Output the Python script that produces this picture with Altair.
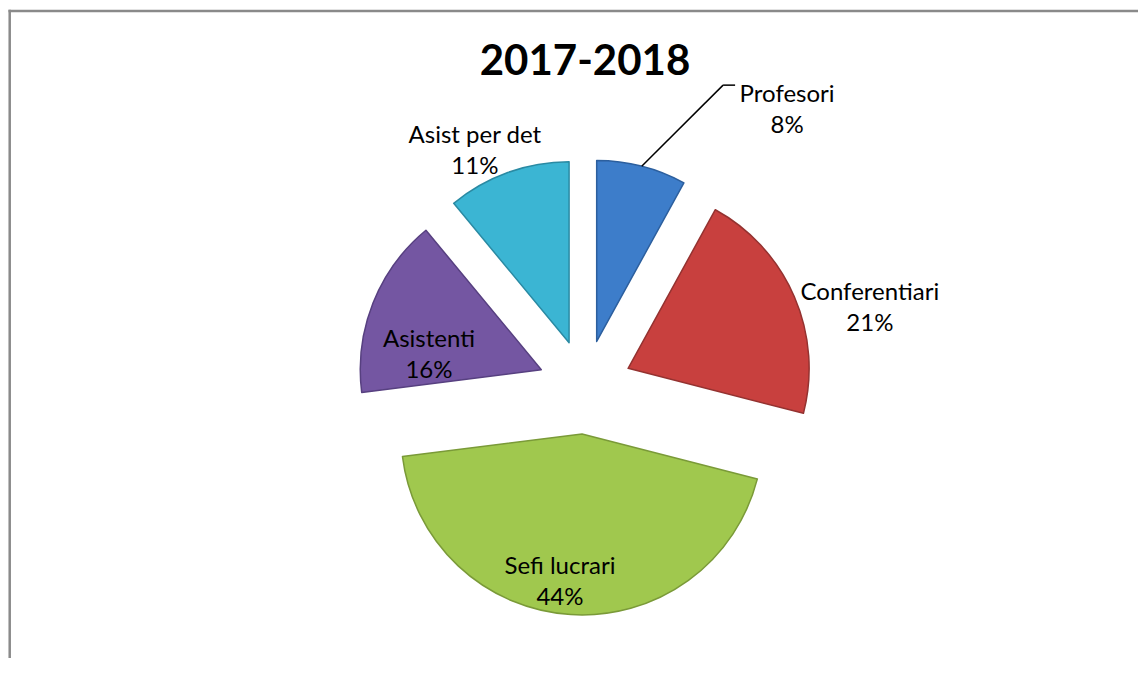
import math
import altair as alt
import pandas as pd

# ---- data ----
categories = ["Profesori", "Conferentiari", "Sefi lucrari", "Asistenti", "Asist per det"]
percent = [8, 21, 44, 16, 11]
title_text = "2017-2018"

# ---- styling / layout (kept separate from the data) ----
colors = ["#3D7DCA", "#C8403E", "#A0C84E", "#7456A2", "#3BB5D3"]
edge_colors = ["#2C5F9E", "#943230", "#7A9A38", "#574080", "#2A8AA3"]
W, H = 1130, 650
CX, CY = 577, 379          # pie centre (px)
R = 181                    # pie radius (px)
EXPLODE = 47               # explosion distance (px)
# label placement: distance from pie centre and angular nudge (deg) from slice middle
label_dist = [355, 300, 182, 163, 274]
label_nudge = [20.3, 5.1, 4.3, -4.8, -3.9]
leader = [1, 0, 0, 0, 0]   # Profesori uses a leader line
FONT = "Lato"

df = pd.DataFrame({
    "category": categories,
    "percent": percent,
    "order": list(range(len(categories))),
    "ldist": label_dist,
    "lnudge": label_nudge,
    "leader": leader,
})

xscale = alt.Scale(domain=[0, W], range=[0, W], nice=False, zero=False)
yscale = alt.Scale(domain=[0, H], range=[0, H], nice=False, zero=False)

base = (
    alt.Chart(df)
    .transform_window(cum="sum(percent)", sort=[alt.SortField("order")], frame=[None, 0])
    .transform_calculate(t0="datum.cum - datum.percent")
    .transform_calculate(mid="(datum.cum - datum.percent / 2) / 100 * 2 * PI")
    .transform_calculate(cx=f"{CX} + {EXPLODE} * sin(datum.mid)")
    .transform_calculate(cy=f"{CY} - {EXPLODE} * cos(datum.mid)")
    .transform_calculate(la=f"datum.mid + datum.lnudge * PI / 180")
    .transform_calculate(lx=f"{CX} + datum.ldist * sin(datum.la)")
    .transform_calculate(ly=f"{CY} - datum.ldist * cos(datum.la)")
    .transform_calculate(sx=f"datum.cx + {R} * sin(datum.mid)")
    .transform_calculate(sy=f"datum.cy - {R} * cos(datum.mid)")
    .transform_calculate(ex="datum.lx - 64", ey="datum.ly - 10", hx="datum.lx - 52")
    .transform_calculate(label="datum.category + '\\n' + datum.percent + '%'")
)

one = alt.Chart(pd.DataFrame({"a": [0]}))
frame_top = one.mark_rule(color="#8A8A8A", strokeWidth=2.5).encode(
    x=alt.value(0.5), x2=alt.value(W), y=alt.value(3)
)
frame_left = one.mark_rule(color="#8A8A8A", strokeWidth=2.5).encode(
    x=alt.value(1.7), y=alt.value(1.8), y2=alt.value(H)
)

arcs = base.mark_arc(outerRadius=R, strokeWidth=1.5, strokeJoin="round").encode(
    x=alt.X("cx:Q", scale=xscale, axis=None),
    y=alt.Y("cy:Q", scale=yscale, axis=None),
    theta=alt.Theta("t0:Q", scale=alt.Scale(domain=[0, 100], range=[0, 2 * math.pi])),
    theta2="cum:Q",
    color=alt.Color("category:N", scale=alt.Scale(domain=categories, range=colors), legend=None),
    stroke=alt.Stroke("category:N", scale=alt.Scale(domain=categories, range=edge_colors), legend=None),
)

leader_base = base.transform_filter("datum.leader == 1")
lead1 = leader_base.mark_rule(color="#000000", strokeWidth=1.5).encode(
    x=alt.X("sx:Q", scale=xscale, axis=None), y=alt.Y("sy:Q", scale=yscale, axis=None),
    x2="ex:Q", y2="ey:Q",
)
lead2 = leader_base.mark_rule(color="#000000", strokeWidth=1.5).encode(
    x=alt.X("ex:Q", scale=xscale, axis=None), y=alt.Y("ey:Q", scale=yscale, axis=None),
    x2="hx:Q", y2="ey:Q",
)

labels = base.mark_text(
    font=FONT, fontSize=24, lineBreak="\n", lineHeight=31,
    align="center", baseline="middle", color="#000000",
).encode(
    x=alt.X("lx:Q", scale=xscale, axis=None),
    y=alt.Y("ly:Q", scale=yscale, axis=None),
    text="label:N",
)

title = alt.Chart(pd.DataFrame({"t": [title_text]})).mark_text(
    font=FONT, fontSize=42, fontWeight="bold", align="center", baseline="middle", color="#000000"
).encode(x=alt.value(577), y=alt.value(54), text="t:N")

chart = alt.layer(frame_top, frame_left, arcs, lead1, lead2, labels, title).properties(
    width=W, height=H, padding=0, autosize=alt.AutoSizeParams(type="none")
).configure_view(strokeWidth=0, stroke="transparent")

chart.save("out.html", embed_options={"renderer": "svg", "actions": False})
